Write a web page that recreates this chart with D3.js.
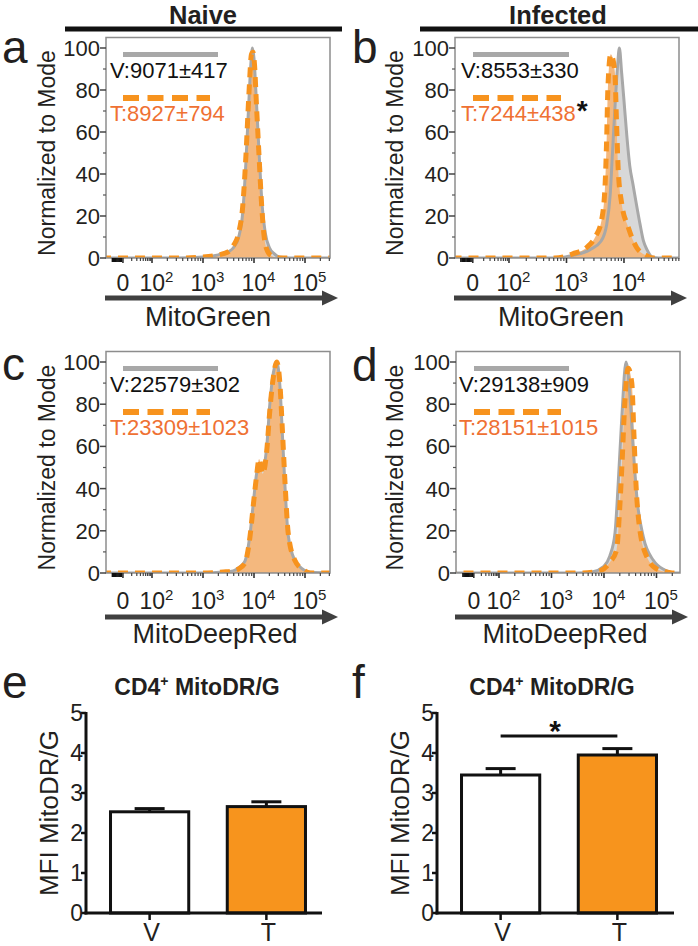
<!DOCTYPE html>
<html><head><meta charset="utf-8">
<script src="https://cdn.jsdelivr.net/npm/d3@7"></script>
<style>body{margin:0;background:#fff}svg text{font-family:"Liberation Sans",Arial,Helvetica,sans-serif}</style>
</head><body><svg id="c" width="698" height="946"></svg>
<script>
// ================= DATA =================
const headerLabels = ["Naive", "Infected"];
const panelLetters = ["a", "b", "c", "d", "e", "f"];
const histYTicks = [0, 20, 40, 60, 80, 100];
const histYLabel = "Normalized to Mode";
const histXLabels = ["MitoGreen", "MitoGreen", "MitoDeepRed", "MitoDeepRed"];
const legendV = ["V:9071±417", "V:8553±330", "V:22579±302", "V:29138±909"];
const legendT = ["T:8927±794", "T:7244±438", "T:23309±1023", "T:28151±1015"];
const legendStar = [false, true, false, false];
const decadeExps = [2, 3, 4, 5];

// histogram curves: x = log10(fluorescence), y = % of mode
const aVx = [1.0, 2.5, 3.0, 3.3, 3.5, 3.6, 3.7, 3.78, 3.84, 3.9, 3.94, 3.97, 4.0, 4.04, 4.1, 4.16, 4.22, 4.3, 4.4, 4.5, 4.7, 5.6];
const aVy = [0, 0, 0.5, 1.5, 3, 5, 10, 22, 45, 75, 93, 100, 95, 78, 50, 25, 12, 5, 2, 0.5, 0, 0];
const aTx = [1.0, 2.5, 3.0, 3.3, 3.5, 3.6, 3.7, 3.78, 3.84, 3.9, 3.95, 3.98, 4.01, 4.05, 4.1, 4.15, 4.2, 4.27, 4.35, 4.5, 5.6];
const aTy = [0, 0, 0.5, 1.5, 3, 6, 12, 25, 48, 78, 97, 98, 92, 72, 48, 25, 10, 3, 1, 0, 0];

const bVx = [1.0, 2.8, 3.06, 3.41, 3.6, 3.7, 3.76, 3.8, 3.85, 3.89, 3.92, 3.96, 4.0, 4.05, 4.1, 4.157, 4.22, 4.28, 4.34, 4.4, 4.49, 4.6, 5.1];
const bVy = [0, 0, 1, 4, 8, 16, 30, 50, 75, 92, 100, 88, 75, 58, 44, 35, 25, 16, 8, 4, 0.5, 0, 0];
const bTx = [1.0, 2.8, 3.11, 3.35, 3.5, 3.61, 3.67, 3.7, 3.72, 3.77, 3.84, 3.87, 3.9, 3.96, 4.07, 4.22, 4.4, 4.5, 5.1];
const bTy = [0, 0, 2, 5, 10, 18, 34, 58, 81, 97, 89, 65, 42, 26, 15, 5, 1, 0, 0];

const cVx = [1.0, 3.0, 3.4, 3.59, 3.7, 3.82, 3.92, 3.99, 4.05, 4.1, 4.17, 4.25, 4.31, 4.38, 4.445, 4.51, 4.56, 4.61, 4.67, 4.8, 4.97, 5.1, 5.6];
const cVy = [0, 0, 0.5, 1, 2.5, 5.5, 18, 34, 47, 52, 49, 60, 80, 95, 100, 88, 64, 40, 18, 6, 1.6, 0.3, 0];
const cTx = [1.0, 3.0, 3.4, 3.59, 3.7, 3.82, 3.92, 3.99, 4.05, 4.1, 4.17, 4.25, 4.31, 4.38, 4.445, 4.51, 4.56, 4.61, 4.67, 4.8, 4.97, 5.1, 5.6];
const cTy = [0, 0, 0.5, 1, 2, 4.6, 17, 33, 46, 54, 47, 58, 77, 93, 100, 89, 66, 42, 19, 6, 1.4, 0, 0];

const dVx = [1.0, 3.5, 3.79, 3.99, 4.11, 4.21, 4.27, 4.34, 4.42, 4.5, 4.56, 4.63, 4.75, 4.94, 5.16, 5.3, 5.6];
const dVy = [0, 0, 0.6, 3, 8, 19, 42, 74, 100, 82, 58, 35, 17, 6, 1.4, 0, 0];
const dTx = [1.0, 3.6, 3.92, 4.11, 4.24, 4.3, 4.34, 4.4, 4.46, 4.53, 4.57, 4.61, 4.67, 4.81, 5.0, 5.16, 5.3, 5.6];
const dTy = [0, 0, 1, 5, 11, 31, 50, 82, 97, 90, 66, 42, 23, 8, 2, 0.6, 0, 0];

// bar charts
const barCats = ["V", "T"];
const barTitleMain = "CD4";
const barTitleSup = "+";
const barTitleRest = " MitoDR/G";
const barYLabel = "MFI MitoDR/G";
const barYTicks = [0, 1, 2, 3, 4, 5];
const barEVals = [2.53, 2.66];
const barEErr = [0.08, 0.12];
const barFVals = [3.45, 3.95];
const barFErr = [0.16, 0.16];

// ================= LAYOUT =================
const svg = d3.select("#c");
svg.append("rect").attr("width", 698).attr("height", 946).attr("fill", "#fff");
const INK = "#231f20";
const GREY_LINE = "#a8a8a8", GREY_FILL = "#d8d8d8";
const OR_LINE = "#f7931e", OR_FILL = "#f4b87e", OR_TEXT = "#ef7133";
const BAR_OR = "#f7941d";

// headers
const headerPos = [{cx: 203, x0: 65, x1: 342}, {cx: 558, x0: 420, x1: 698}];
headerLabels.forEach((h, i) => {
  const p = headerPos[i];
  svg.append("text").attr("x", p.cx).attr("y", 23.5).attr("text-anchor", "middle")
    .attr("font-size", 25.5).attr("font-weight", "bold").attr("fill", INK).text(h);
  svg.append("line").attr("x1", p.x0).attr("x2", p.x1).attr("y1", 29).attr("y2", 29)
    .attr("stroke", "#111").attr("stroke-width", 5);
});

// panel letters
const letterPos = [[2, 63], [352, 63], [2, 380], [352, 381], [2, 698], [352, 698]];
panelLetters.forEach((l, i) => {
  svg.append("text").attr("x", letterPos[i][0]).attr("y", letterPos[i][1])
    .attr("font-size", 46).attr("fill", INK).text(l);
});

const histPanels = [
  {bx0: 106, bx1: 330, y0: 258, y100: 48, dom: [1.098, 5.490], zeroL: 1.43, labY: 55, xlabX: 208,
   V: [aVx, aVy], T: [aTx, aTy], tickBase: 291, arrowY: 298, xlabY: 326, legX: 123, legTX: 110, legLen: 95, legDLen: 87},
  {bx0: 455, bx1: 679, y0: 258, y100: 48, dom: [1.061, 4.957], zeroL: 1.37, labY: 403, xlabX: 561,
   V: [bVx, bVy], T: [bTx, bTy], tickBase: 291, arrowY: 298, xlabY: 326, legX: 473, legTX: 461, legLen: 96, legDLen: 88},
  {bx0: 106, bx1: 330, y0: 573, y100: 362, dom: [1.098, 5.490], zeroL: 1.43, labY: 55, xlabX: 215,
   V: [cVx, cVy], T: [cTx, cTy], tickBase: 609, arrowY: 617, xlabY: 643, legX: 123, legTX: 110, legLen: 95, legDLen: 87},
  {bx0: 456, bx1: 680, y0: 573, y100: 362, dom: [1.181, 5.448], zeroL: 1.52, labY: 403, xlabX: 565,
   V: [dVx, dVy], T: [dTx, dTy], tickBase: 609, arrowY: 617, xlabY: 643, legX: 474, legTX: 459, legLen: 95, legDLen: 87}
];

histPanels.forEach((p, i) => {
  const g = svg.append("g");
  const x = d3.scaleLinear().domain(p.dom).range([p.bx0, p.bx1]);
  const y = d3.scaleLinear().domain([0, 100]).range([p.y0, p.y100]);
  const top = p.y100 - 10.5;
  const cid = "clip" + i;
  svg.append("clipPath").attr("id", cid).append("rect")
    .attr("x", p.bx0).attr("y", top).attr("width", p.bx1 - p.bx0).attr("height", p.y0 - top);
  const plot = g.append("g").attr("clip-path", `url(#${cid})`);
  const mk = (xs, ys) => xs.map((v, k) => [v, ys[k]]);
  const V = mk(p.V[0], p.V[1]), T = mk(p.T[0], p.T[1]);
  const area = d3.area().x(d => x(d[0])).y0(y(0)).y1(d => y(d[1])).curve(d3.curveMonotoneX);
  const line = d3.line().x(d => x(d[0])).y(d => y(d[1])).curve(d3.curveMonotoneX);
  plot.append("path").attr("d", area(V)).attr("fill", GREY_FILL);
  plot.append("path").attr("d", area(T)).attr("fill", OR_FILL);
  plot.append("path").attr("d", line(V)).attr("fill", "none").attr("stroke", GREY_LINE).attr("stroke-width", 3);
  plot.append("path").attr("d", line(T)).attr("fill", "none").attr("stroke", OR_LINE)
    .attr("stroke-width", 5).attr("stroke-dasharray", "10,7");
  g.append("rect").attr("x", p.bx0).attr("y", top).attr("width", p.bx1 - p.bx0).attr("height", p.y0 - top)
    .attr("fill", "none").attr("stroke", "#8d8d8d").attr("stroke-width", 1.5);
  const yMinor = d3.range(10, 100, 20);
  yMinor.forEach(v => g.append("line").attr("x1", p.bx0 - 3).attr("x2", p.bx0).attr("y1", y(v)).attr("y2", y(v))
    .attr("stroke", "#555").attr("stroke-width", 1.2));
  histYTicks.forEach(v => {
    g.append("line").attr("x1", p.bx0 - 6).attr("x2", p.bx0).attr("y1", y(v)).attr("y2", y(v))
      .attr("stroke", "#444").attr("stroke-width", 1.5);
    g.append("text").attr("x", p.bx0 - 6).attr("y", y(v) + 8).attr("text-anchor", "end")
      .attr("font-size", 22).attr("fill", INK).text(v);
  });
  g.append("text").attr("transform", `translate(${p.labY},${(p.y0 + p.y100) / 2}) rotate(-90)`)
    .attr("text-anchor", "middle").attr("font-size", 23).attr("fill", INK).text(histYLabel);
  const [d0, d1] = p.dom;
  const majors = decadeExps.filter(e => e >= d0 && e <= d1);
  const lowMinor = d3.range(2, 10).map(m => p.zeroL + Math.log10(m) * (2 - p.zeroL));
  const negCluster = d3.range(0, 9).map(k => p.zeroL - 0.03 - k * 0.022);
  const logMinor = [];
  for (let e = 2; e < 6; e++) for (let m = 2; m < 10; m++) { const L = e + Math.log10(m); if (L < d1) logMinor.push(L); }
  lowMinor.concat(logMinor).forEach(L => g.append("line").attr("x1", x(L)).attr("x2", x(L))
    .attr("y1", p.y0).attr("y2", p.y0 + 3).attr("stroke", "#444").attr("stroke-width", 1.2));
  negCluster.forEach(L => g.append("line").attr("x1", x(L)).attr("x2", x(L))
    .attr("y1", p.y0).attr("y2", p.y0 + 4).attr("stroke", "#111").attr("stroke-width", 1.6));
  [p.zeroL].concat(majors).forEach(L => g.append("line").attr("x1", x(L)).attr("x2", x(L))
    .attr("y1", p.y0).attr("y2", p.y0 + 5).attr("stroke", "#333").attr("stroke-width", 1.6));
  g.append("text").attr("x", x(p.zeroL)).attr("y", p.tickBase).attr("text-anchor", "middle")
    .attr("font-size", 23).attr("fill", INK).text("0");
  majors.forEach(e => {
    const t = g.append("text").attr("x", x(e) - 12.5).attr("y", p.tickBase).attr("font-size", 23).attr("fill", INK);
    t.append("tspan").text("10");
    t.append("tspan").attr("font-size", 15).attr("dy", -9).text(e);
  });
  g.append("line").attr("x1", p.bx0 - 1).attr("x2", p.bx1 - 5).attr("y1", p.arrowY).attr("y2", p.arrowY)
    .attr("stroke", "#404040").attr("stroke-width", 5);
  g.append("path").attr("d", `M${p.bx1 - 8},${p.arrowY - 7.5}L${p.bx1 + 8},${p.arrowY}L${p.bx1 - 8},${p.arrowY + 7.5}Z`)
    .attr("fill", "#404040");
  g.append("text").attr("x", p.xlabX).attr("y", p.xlabY).attr("text-anchor", "middle")
    .attr("font-size", 27).attr("fill", INK).text(histXLabels[i]);
  g.append("line").attr("x1", p.legX).attr("x2", p.legX + p.legLen).attr("y1", p.y100 + 6.5).attr("y2", p.y100 + 6.5)
    .attr("stroke", GREY_LINE).attr("stroke-width", 5);
  g.append("text").attr("x", p.legTX).attr("y", p.y100 + 30).attr("font-size", 22).attr("fill", "#111").text(legendV[i]);
  g.append("line").attr("x1", p.legX).attr("x2", p.legX + p.legDLen).attr("y1", p.y100 + 50).attr("y2", p.y100 + 50)
    .attr("stroke", OR_LINE).attr("stroke-width", 6).attr("stroke-dasharray", "16,8.5");
  const tt = g.append("text").attr("x", p.legTX).attr("y", p.y100 + 73).attr("font-size", 22).attr("fill", OR_TEXT).text(legendT[i]);
  if (legendStar[i]) {
    g.append("text").attr("x", p.legTX + tt.node().getComputedTextLength() + 1).attr("y", p.y100 + 72)
      .attr("font-size", 28).attr("font-weight", "bold").attr("fill", "#111").text("*");
  }
});

// ================= BAR CHARTS =================
const barPanels = [
  {ax: 86, axEnd: 322, band: [93, 323], vals: barEVals, errs: barEErr, titleX: 197, sig: false},
  {ax: 437, axEnd: 674, band: [444, 674], vals: barFVals, errs: barFErr, titleX: 552, sig: true}
];
barPanels.forEach(p => {
  const g = svg.append("g");
  const y = d3.scaleLinear().domain([0, 5]).range([913, 713]);
  const x = d3.scaleBand().domain(barCats).range(p.band).paddingInner(0.33).paddingOuter(0.15);
  const t = g.append("text").attr("x", p.titleX).attr("y", 695).attr("text-anchor", "middle")
    .attr("font-size", 23).attr("font-weight", "bold").attr("fill", INK);
  t.append("tspan").text(barTitleMain);
  t.append("tspan").attr("font-size", 14).attr("dy", -9).text(barTitleSup);
  t.append("tspan").attr("dy", 9).text(barTitleRest);
  barCats.forEach((c, k) => {
    const cx = x(c) + x.bandwidth() / 2;
    g.append("line").attr("x1", cx).attr("x2", cx).attr("y1", y(p.vals[k])).attr("y2", y(p.vals[k] + p.errs[k]))
      .attr("stroke", "#111").attr("stroke-width", 3);
    g.append("line").attr("x1", cx - 15).attr("x2", cx + 15).attr("y1", y(p.vals[k] + p.errs[k])).attr("y2", y(p.vals[k] + p.errs[k]))
      .attr("stroke", "#111").attr("stroke-width", 3);
  });
  g.selectAll("rect.bar").data(barCats).enter().append("rect")
    .attr("x", c => x(c)).attr("width", x.bandwidth())
    .attr("y", (c, k) => y(p.vals[k])).attr("height", (c, k) => y(0) - y(p.vals[k]))
    .attr("fill", (c, k) => k === 0 ? "#fff" : BAR_OR).attr("stroke", "#111").attr("stroke-width", 3);
  g.append("line").attr("x1", p.ax).attr("x2", p.ax).attr("y1", y(5) - 1).attr("y2", y(0) + 1.5)
    .attr("stroke", "#111").attr("stroke-width", 3);
  g.append("line").attr("x1", p.ax - 1.5).attr("x2", p.axEnd).attr("y1", y(0)).attr("y2", y(0))
    .attr("stroke", "#111").attr("stroke-width", 3);
  barYTicks.forEach(v => {
    g.append("line").attr("x1", p.ax - 5).attr("x2", p.ax).attr("y1", y(v)).attr("y2", y(v))
      .attr("stroke", "#111").attr("stroke-width", 2.5);
    g.append("text").attr("x", p.ax - 3).attr("y", y(v) + 8).attr("text-anchor", "end")
      .attr("font-size", 23).attr("fill", INK).text(v);
  });
  barCats.forEach(c => {
    const cx = x(c) + x.bandwidth() / 2;
    g.append("line").attr("x1", cx).attr("x2", cx).attr("y1", y(0)).attr("y2", y(0) + 7)
      .attr("stroke", "#111").attr("stroke-width", 2.5);
    g.append("text").attr("x", cx + 2).attr("y", 941).attr("text-anchor", "middle")
      .attr("font-size", 25).attr("fill", INK).text(c);
  });
  g.append("text").attr("transform", `translate(${p.ax - 28},${(y(0) + y(5)) / 2}) rotate(-90)`)
    .attr("text-anchor", "middle").attr("font-size", 26).attr("fill", INK).text(barYLabel);
  if (p.sig) {
    const c0 = x(barCats[0]) + x.bandwidth() / 2, c1 = x(barCats[1]) + x.bandwidth() / 2;
    g.append("line").attr("x1", c0).attr("x2", c1).attr("y1", 736).attr("y2", 736)
      .attr("stroke", "#111").attr("stroke-width", 3);
    g.append("text").attr("x", (c0 + c1) / 2 - 4).attr("y", 741).attr("text-anchor", "middle")
      .attr("font-size", 30).attr("font-weight", "bold").attr("fill", "#111").text("*");
  }
});
</script></body></html>
